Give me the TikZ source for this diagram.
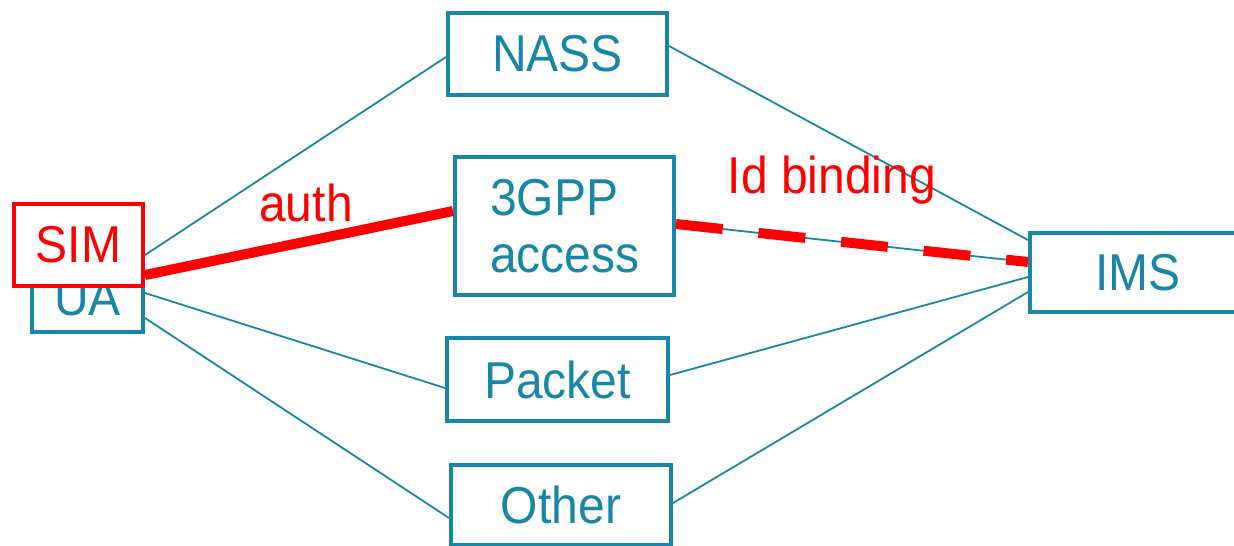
\documentclass[tikz,border=0pt]{standalone}
\usepackage{graphicx}
\usepackage{fontspec}
\setmainfont{Liberation Sans}
\newcommand{\st}[1]{\scalebox{1}[1.08]{#1}}
\definecolor{boxblue}{RGB}{24,134,166}
\definecolor{sred}{RGB}{255,0,0}
\begin{document}
\begin{tikzpicture}[x=1pt,y=-1pt,
  bx/.style={draw=boxblue, line width=4pt, fill=white, text=boxblue, inner sep=0pt,
    font=\fontsize{48}{57}\selectfont},
  thin/.style={draw=boxblue, line width=1.8pt},
  lbl/.style={text=sred, inner sep=0pt, font=\fontsize{48}{57}\selectfont}]
\useasboundingbox (0,0) rectangle (1234,546);
% boxes (UA underneath)
\node[bx, minimum width=111pt, minimum height=68pt] (ua) at (87.5,298) {\st{UA}};
\node[bx, minimum width=219pt, minimum height=82pt] (nass) at (557.5,54) {\st{NASS}};
\node[bx, minimum width=219pt, minimum height=138pt, align=left, text width=149pt, inner xsep=35pt] (gpp) at (564.5,226) {\st{3GPP}\\\st{access}};
\node[bx, minimum width=221pt, minimum height=83pt] (packet) at (557.5,379.5) {\st{Packet}};
\node[bx, minimum width=220pt, minimum height=80pt] (other) at (561,505) {\st{Other}};
\node[bx, minimum width=216pt, minimum height=79pt] (ims) at (1138,272.5) {\st{IMS}};
% connectors
\draw[thin] ([yshift=43pt]ua.east) -- ([yshift=-3pt]nass.west);
\draw[thin] ([yshift=5pt]ua.east) -- ([yshift=-8.5pt]packet.west);
\draw[thin] ([yshift=-20pt]ua.east) -- ([yshift=-13pt]other.west);
\draw[thin] ([yshift=8pt]nass.east) -- ([yshift=32.5pt]ims.west);
\draw[thin] ([yshift=2pt]gpp.east) -- ([yshift=10.5pt]ims.west);
\draw[thin] ([yshift=4.5pt]packet.east) -- ([yshift=-4.5pt]ims.west);
\draw[thin] ([yshift=2pt]other.east) -- ([yshift=-19.5pt]ims.west);
% red links
\draw[sred, line width=10pt] ([yshift=23pt]ua.east) -- ([yshift=15pt]gpp.west);
\draw[sred, line width=10pt, dash pattern=on 47pt off 36pt] ([yshift=2pt]gpp.east) -- ([yshift=10.5pt]ims.west);
% SIM on top
\node[bx, draw=sred, text=sred, minimum width=129pt, minimum height=82pt] (sim) at (78.5,245) {\st{SIM}};
% labels
\node[lbl] (auth) at (306,203) {\st{auth}};
\node[lbl] (idb) at (832,180) {\st{Id binding}};
\end{tikzpicture}
\end{document}
